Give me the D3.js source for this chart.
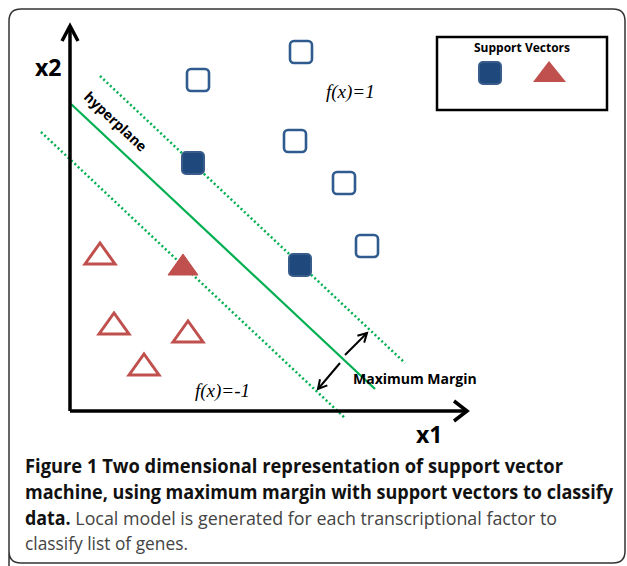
<!DOCTYPE html>
<html>
<head>
<meta charset="utf-8">
<script src="https://cdn.jsdelivr.net/npm/d3@7"></script>
<style>
body{margin:0;background:#fff;}
</style>
</head>
<body>
<div id="chart"></div>
<script>
// points in x1/x2 units (0..100 on both axes)
const openSquares = [[57.75,89.75],[32,82.75],[56.25,67.5],[68.5,57],[74.25,41.25]];
const supportSquares = [[30.75,62],[57.5,36.5]];
const openTriangles = [[7.5,39.25],[11,21.75],[29.5,19.75],[18.5,11.5]];
const supportTriangles = [[28.25,36.5]];

// lines: [start, end]
const hyperplane = [[0.25,76.75],[76.25,5.5]];
const marginUpper = [[7.5,83.75],[83.75,12]];
const marginLower = [[-7.25,69.75],[68.75,-1.75]];

const captionLines = [
  [{t:'Figure 1 Two dimensional representation of support vector',b:true}],
  [{t:'machine, using maximum margin with support vectors to classify',b:true}],
  [{t:'data.',b:true},{t:' Local model is generated for each transcriptional factor to',b:false}],
  [{t:'classify list of genes.',b:false}]
];
const captionWidths = [538, 588, 532, 163];

const W = 627, H = 566;
const blue = '#2f5b8e', blueFill = '#1f497d', red = '#c0504d', green = '#00b050';

const svg = d3.select('#chart').append('svg')
  .attr('width',W).attr('height',H)
  .style('font-family','"Open Sans", sans-serif');

// frame
svg.append('path')
  .attr('d','M9,580 L9,21 Q9,9 21,9 L613,9 Q625,9 625,21 L625,551 Q625,563 613,563 L21,563 Q9,563 9,551')
  .attr('fill','none').attr('stroke','#333').attr('stroke-width',1.5);

const x = d3.scaleLinear().domain([0,100]).range([70,470]);
const y = d3.scaleLinear().domain([0,100]).range([411,11]);

const line = d3.line().x(d=>x(d[0])).y(d=>y(d[1]));

// margins and hyperplane
[marginUpper, marginLower].forEach(function(m){
  svg.append('path').datum(m)
    .attr('d',line).attr('fill','none')
    .attr('stroke',green).attr('stroke-width',2.5)
    .attr('stroke-dasharray','2,2.6');
});
svg.append('path').datum(hyperplane)
  .attr('d',line).attr('fill','none')
  .attr('stroke',green).attr('stroke-width',2.2);

// axes
svg.append('path').datum([[0,0],[0,96.25]]).attr('d',line)
  .attr('stroke','#000').attr('stroke-width',3.5).attr('fill','none');
svg.append('path').datum([[0,0],[99.25,0]]).attr('d',line)
  .attr('stroke','#000').attr('stroke-width',3.5).attr('fill','none');
// arrow heads
svg.append('path')
  .attr('d',`M${x(0)-8},${y(96.25)+15} L${x(0)},${y(96.25)} L${x(0)+8},${y(96.25)+15}`)
  .attr('fill','none').attr('stroke','#000').attr('stroke-width',3.5);
svg.append('path')
  .attr('d',`M${x(99.25)-13},${y(0)-10} L${x(99.25)},${y(0)} L${x(99.25)-13},${y(0)+10}`)
  .attr('fill','none').attr('stroke','#000').attr('stroke-width',3.5);

svg.append('text').attr('x',35).attr('y',76).text('x2')
  .attr('font-size',23).attr('font-weight','bold');
svg.append('text').attr('x',416).attr('y',443).text('x1')
  .attr('font-size',23).attr('font-weight','bold');

// squares
const sq = 22;
svg.selectAll('.osq').data(openSquares).enter().append('rect')
  .attr('class','osq')
  .attr('x',d=>x(d[0])-sq/2).attr('y',d=>y(d[1])-sq/2)
  .attr('width',sq).attr('height',sq).attr('rx',4)
  .attr('fill','#fff').attr('stroke',blue).attr('stroke-width',2.6);
svg.selectAll('.ssq').data(supportSquares).enter().append('rect')
  .attr('class','ssq')
  .attr('x',d=>x(d[0])-sq/2).attr('y',d=>y(d[1])-sq/2)
  .attr('width',sq).attr('height',sq).attr('rx',4)
  .attr('fill',blueFill).attr('stroke','#385d8a').attr('stroke-width',2);

// triangles
function tri(cx,cy){
  return `M${cx-15},${cy+10} L${cx},${cy-11} L${cx+15},${cy+10} Z`;
}
svg.selectAll('.otri').data(openTriangles).enter().append('path')
  .attr('class','otri')
  .attr('d',d=>tri(x(d[0]),y(d[1])))
  .attr('fill','#fff').attr('stroke',red).attr('stroke-width',3).attr('stroke-linejoin','miter');
svg.selectAll('.stri').data(supportTriangles).enter().append('path')
  .attr('class','stri')
  .attr('d',d=>tri(x(d[0]),y(d[1])))
  .attr('fill',red).attr('stroke',red).attr('stroke-width',1);

// labels
const angle = Math.atan2(y(hyperplane[1][1])-y(hyperplane[0][1]), x(hyperplane[1][0])-x(hyperplane[0][0]))*180/Math.PI;
svg.append('text')
  .attr('transform',`translate(83,98) rotate(${angle})`)
  .attr('font-size',14).attr('font-weight','bold').text('hyperplane');

svg.append('text').attr('x',326).attr('y',98)
  .attr('font-family','"Liberation Serif", serif').attr('font-style','italic')
  .attr('font-size',19).text('f(x)=1');
svg.append('text').attr('x',195).attr('y',397)
  .attr('font-family','"Liberation Serif", serif').attr('font-style','italic')
  .attr('font-size',19).text('f(x)=-1');

svg.append('text').attr('x',353).attr('y',384)
  .attr('font-size',14).attr('font-weight','bold').text('Maximum Margin');

// margin arrows
const arrows = [[[345,355],[367,333]],[[340,363],[318,389]]];
arrows.forEach(function(a){
  const [p0,p1] = a;
  svg.append('line').attr('x1',p0[0]).attr('y1',p0[1]).attr('x2',p1[0]).attr('y2',p1[1])
    .attr('stroke','#000').attr('stroke-width',2);
  const ang = Math.atan2(p1[1]-p0[1],p1[0]-p0[0]);
  const L = 10, s = 0.5;
  const w1 = [p1[0]-L*Math.cos(ang-s), p1[1]-L*Math.sin(ang-s)];
  const w2 = [p1[0]-L*Math.cos(ang+s), p1[1]-L*Math.sin(ang+s)];
  svg.append('path').attr('d',`M${w1} L${p1} L${w2}`)
    .attr('fill','none').attr('stroke','#000').attr('stroke-width',2);
});

// legend
svg.append('rect').attr('x',437).attr('y',37).attr('width',170).attr('height',73)
  .attr('fill','none').attr('stroke','#000').attr('stroke-width',2.5);
svg.append('text').attr('x',522).attr('y',52).attr('text-anchor','middle')
  .attr('font-size',12).attr('font-weight','bold').text('Support Vectors');
svg.append('rect').attr('x',490-sq/2).attr('y',73-sq/2).attr('width',sq).attr('height',sq).attr('rx',4)
  .attr('fill',blueFill).attr('stroke','#385d8a').attr('stroke-width',2);
svg.append('path').attr('d',`M533,82 L549,61 L566,82 Z`).attr('fill',red);

// caption
const baselines = [473, 499, 525, 550];
captionLines.forEach(function(parts,i){
  const t = svg.append('text').attr('x',25).attr('y',baselines[i])
    .attr('font-size',19).attr('fill','#222')
    .attr('textLength',captionWidths[i]).attr('lengthAdjust','spacingAndGlyphs');
  parts.forEach(function(p){
    t.append('tspan').text(p.t)
      .attr('font-weight',p.b?'bold':'normal')
      .attr('fill',p.b?'#111':'#444');
  });
});
</script>
</body>
</html>
